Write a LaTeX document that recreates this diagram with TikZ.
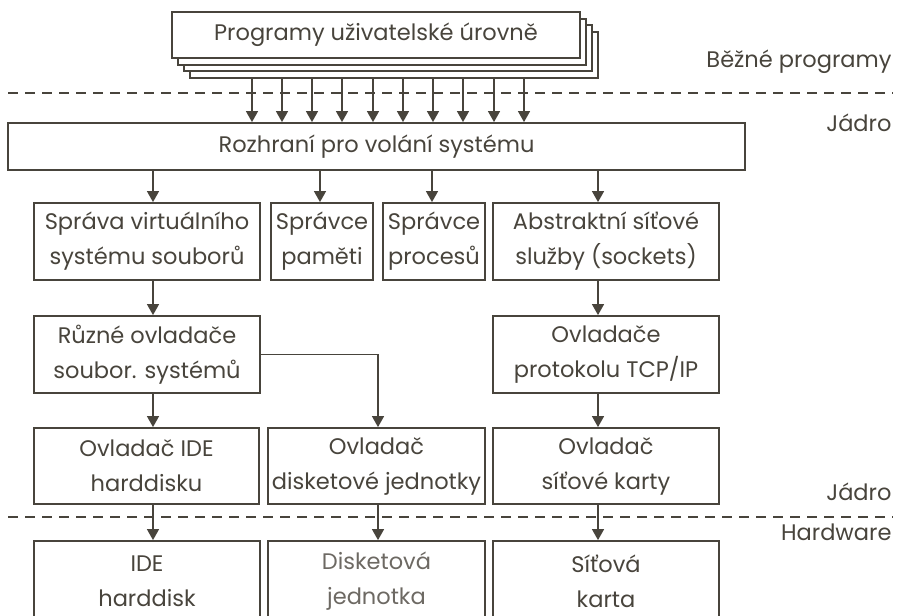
\documentclass[tikz,border=0pt]{standalone}
\usepackage{fontspec}
\setmainfont{Poppins}
\usetikzlibrary{arrows.meta,calc}
\definecolor{ink}{RGB}{72,68,60}

\begin{document}
\begin{tikzpicture}[x=1pt, y=-1pt,
  every node/.style={font=\fontsize{22.5}{35}\selectfont, text=ink},
  box/.style={draw=ink, line width=1.8pt, fill=white, align=center, inner sep=0pt},
  arr/.style={draw=ink, line width=1.3pt, -{Triangle[width=12pt,length=11pt]}},
  layer/.style={draw=ink, line width=1.8pt, dash pattern=on 10pt off 7pt},
  side/.style={anchor=east}]
  \useasboundingbox (0,0) rectangle (901,615);

  % user programs (stacked)
  \foreach \k in {3,2,1}
    \node[box, minimum width=408pt, minimum height=46pt] (prog\k) at (376+6*\k,35+6.7*\k) {};
  \node[box, minimum width=408pt, minimum height=46pt] (prog) at (376,35) {Programy uživatelské úrovně};

  \node[side] (bezne) at (895,62) {Běžné programy};
  \node[side] (jadro1) at (895,123) {Jádro};
  \draw[layer] (8,93) -- (893,93);

  % kernel
  \node[box, minimum width=737pt, minimum height=47pt] (api) at (376.5,146.5) {Rozhraní pro volání systému};
  \foreach \x in {252,282,312,342,373,403,433,463,494,524}
    \draw[arr] (\x,0 |- prog3.south) -- (\x,0 |- api.north);

  \node[box, minimum width=226pt, minimum height=77pt] (vfs) at (147,241.5) {Správa virtuálního\\systému souborů};
  \node[box, minimum width=102pt, minimum height=77pt] (mem) at (322,241.5) {Správce\\paměti};
  \node[box, minimum width=102pt, minimum height=77pt] (proc) at (434,241.5) {Správce\\procesů};
  \node[box, minimum width=226pt, minimum height=77pt] (sock) at (606,241.5) {Abstraktní síťové\\služby (sockets)};
  \draw[arr] (153,0 |- api.south) -- (153,0 |- vfs.north);
  \draw[arr] (320,0 |- api.south) -- (320,0 |- mem.north);
  \draw[arr] (432,0 |- api.south) -- (432,0 |- proc.north);
  \draw[arr] (598,0 |- api.south) -- (598,0 |- sock.north);

  \node[box, minimum width=226pt, minimum height=77pt] (fsdrv) at (147,354.5) {Různé ovladače\\soubor. systémů};
  \node[box, minimum width=226pt, minimum height=77pt] (tcp) at (606,354.5) {Ovladače\\protokolu TCP/IP};
  \draw[arr] (153,0 |- vfs.south) -- (153,0 |- fsdrv.north);
  \draw[arr] (598,0 |- sock.south) -- (598,0 |- tcp.north);

  \node[box, minimum width=225pt, minimum height=76pt] (idedrv) at (146.5,466) {Ovladač IDE\\harddisku};
  \node[box, minimum width=217pt, minimum height=76pt] (fddrv) at (376.5,466) {Ovladač\\disketové jednotky};
  \node[box, minimum width=226pt, minimum height=76pt] (nicdrv) at (606,466) {Ovladač\\síťové karty};
  \draw[arr] (153,0 |- fsdrv.south) -- (153,0 |- idedrv.north);
  \draw[arr] (fsdrv.east) -| (378,0 |- fddrv.north);
  \draw[arr] (598,0 |- tcp.south) -- (598,0 |- nicdrv.north);

  \node[side] (jadro2) at (895,492) {Jádro};
  \node[side] (hw) at (895,532) {Hardware};
  \draw[layer] (8,517) -- (893,517);

  % hardware
  \node[box, minimum width=226pt, minimum height=80pt] (ide) at (147,581) {IDE\\harddisk};
  \node[box, minimum width=217pt, minimum height=80pt, text=ink!80] (fdd) at (376.5,581) {Disketová\\jednotka};
  \node[box, minimum width=226pt, minimum height=80pt] (nic) at (606,581) {Síťová\\karta};
  \draw[arr] (153,0 |- idedrv.south) -- (153,0 |- ide.north);
  \draw[arr] (378,0 |- fddrv.south) -- (378,0 |- fdd.north);
  \draw[arr] (598,0 |- nicdrv.south) -- (598,0 |- nic.north);
\end{tikzpicture}
\end{document}
